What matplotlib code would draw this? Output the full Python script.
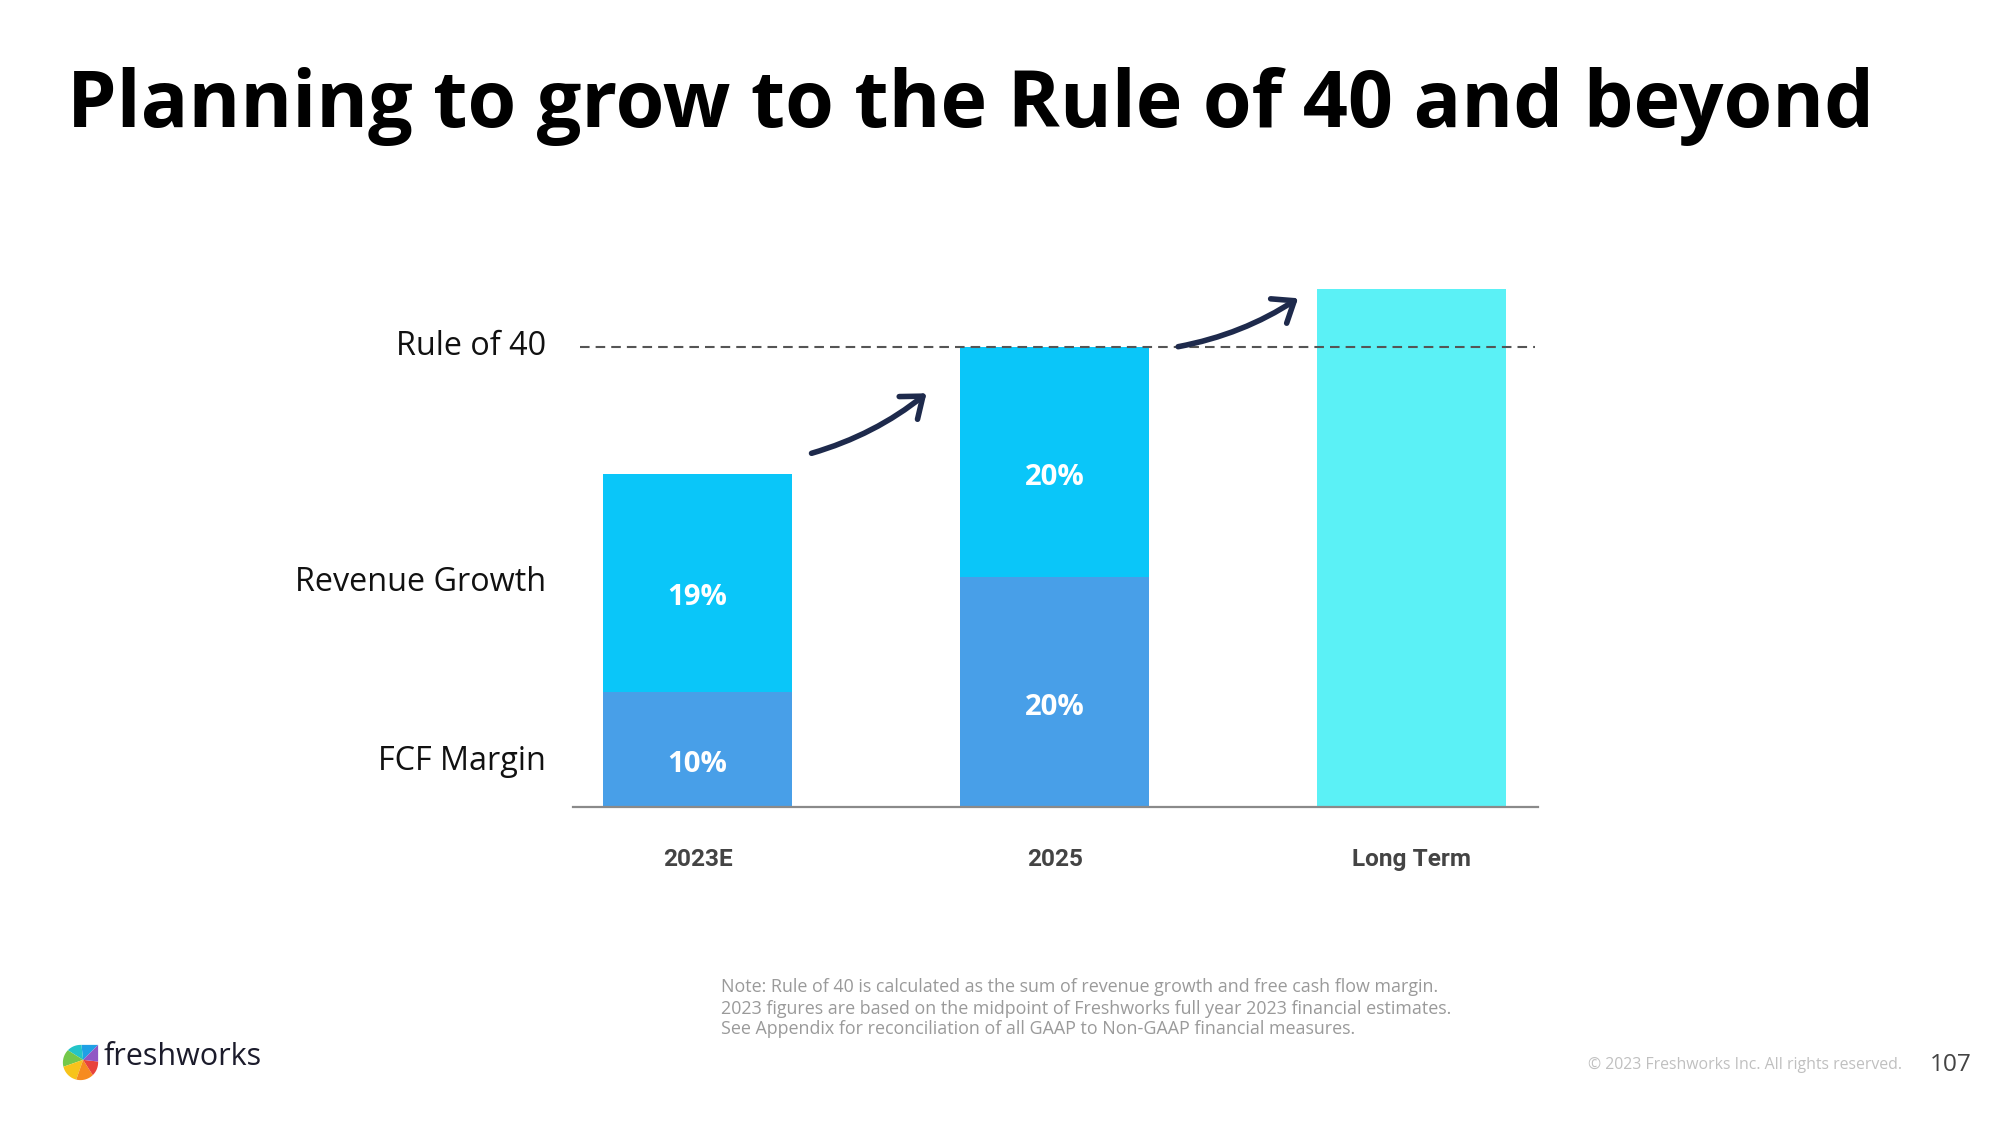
import matplotlib
matplotlib.use("Agg")
import matplotlib.pyplot as plt
import numpy as np
from matplotlib.patches import Wedge, Polygon

# ---------------- data ----------------
categories = ["2023E", "2025", "Long Term"]
fcf_margin = [10, 20, 0]
revenue_growth = [19, 20, 0]
long_term = [0, 0, 45]
rule_of_40 = 40
fcf_labels = ["10%", "20%", ""]
rev_labels = ["19%", "20%", ""]
row_labels = ["Rule of 40", "Revenue Growth", "FCF Margin"]
title = "Planning to grow to the Rule of 40 and beyond"
notes = ["Note: Rule of 40 is calculated as the sum of revenue growth and free cash flow margin.",
         "2023 figures are based on the midpoint of Freshworks full year 2023 financial estimates.",
         "See Appendix for reconciliation of all GAAP to Non-GAAP financial measures."]
copyright_text = "\u00a9 2023 Freshworks Inc. All rights reserved."
page_number = "107"

# ---------------- style ----------------
C_FCF = "#489FE8"
C_REV = "#0AC6F9"
C_LT = "#5BF1F6"
C_ARROW = "#1E2A4C"
MAIN_FONT = ["Open Sans", "DejaVu Sans"]
W, H = 2000, 1125

fig = plt.figure(figsize=(20, 11.25), dpi=100)
fig.patch.set_facecolor("white")

def fx(px):
    return px / W

def fy(py):
    return 1 - py / H

# axes: x from 572.7px to 1538px ; baseline 807.4px ; top 250px
ax = fig.add_axes([fx(572.7), fy(807.4), fx(1538 - 572.7), (807.4 - 250) / H])
x = np.arange(len(categories))
bw = 0.53
ax.bar(x, fcf_margin, width=bw, color=C_FCF, zorder=2)
ax.bar(x, revenue_growth, width=bw, bottom=fcf_margin, color=C_REV, zorder=2)
ax.bar(x, long_term, width=bw, color=C_LT, zorder=2)
ax.set_xlim(-0.350, 2.354)
ax.set_ylim(0, 48.42)

for s in ["top", "right", "left"]:
    ax.spines[s].set_visible(False)
ax.spines["bottom"].set_color("#8a8a8a")
ax.spines["bottom"].set_linewidth(1.6)
ax.spines["bottom"].set_zorder(3)
ax.set_yticks([])
ax.set_xticks(x)
ax.set_xticklabels(categories, fontfamily=["Roboto", "DejaVu Sans"], fontweight="bold",
                   color="#444444", fontsize=17)
ax.tick_params(axis="x", length=0, pad=29)

# rule of 40 line
ax.axhline(rule_of_40, xmin=0.008, xmax=0.997, color="#555555", lw=1.5,
           linestyle=(0, (4.6, 2.9)), zorder=4)

# bar value labels
LABEL_SHIFT = 1.3
label_texts = []
for i in range(len(categories)):
    if fcf_labels[i]:
        t = ax.text(x[i], fcf_margin[i] / 2 - LABEL_SHIFT, fcf_labels[i], ha="center", va="center",
                    color="white", fontweight="bold", fontfamily=MAIN_FONT, fontsize=21, zorder=5)
        label_texts.append(t)
    if rev_labels[i]:
        t = ax.text(x[i], fcf_margin[i] + revenue_growth[i] / 2 - LABEL_SHIFT, rev_labels[i],
                    ha="center", va="center", color="white", fontweight="bold",
                    fontfamily=MAIN_FONT, fontsize=21, zorder=5)
        label_texts.append(t)

# row labels on the left
row_y = [rule_of_40, fcf_margin[0] + revenue_growth[0] / 2, fcf_margin[0] / 2 - 1.0]
row_texts = []
trans = ax.get_yaxis_transform()
for lab, yy in zip(row_labels, row_y):
    t = ax.text(-0.028, yy, lab, transform=trans, ha="right", va="center",
                fontfamily=MAIN_FONT, fontsize=22, color="#111111")
    row_texts.append(t)

# arrows
arrow_kw = dict(arrowstyle="->,head_length=1.35,head_width=1.05", lw=4.0, color=C_ARROW,
                shrinkA=0, shrinkB=0, connectionstyle="arc3,rad=0.1", capstyle="round",
                joinstyle="round")
ax.annotate("", xy=(0.641, 35.97), xytext=(0.319, 30.76), arrowprops=arrow_kw, zorder=6)
ax.annotate("", xy=(1.682, 44.23), xytext=(1.346, 40.02), arrowprops=arrow_kw, zorder=6)

# title
t_title = fig.text(fx(67), fy(127), title, ha="left", va="baseline", fontsize=60,
                   fontweight="bold", fontfamily=MAIN_FONT, color="black")

# footnotes
note_y = [986.5, 1009, 1028.5]
note_texts = []
for line, yy in zip(notes, note_y):
    t = fig.text(fx(721), fy(yy), line, ha="left", va="center", fontsize=12,
                 fontfamily=MAIN_FONT, color="#9a9a9a")
    note_texts.append(t)

t_copy = fig.text(fx(1588), fy(1065), copyright_text, ha="left", va="center", fontsize=12,
                  fontfamily=MAIN_FONT, color="#c0c0c0")
t_page = fig.text(fx(1930), fy(1065), page_number, ha="left", va="center", fontsize=20,
                  fontfamily=MAIN_FONT, color="#444444")
t_logo = fig.text(fx(103), fy(1057), "freshworks", ha="left", va="center", fontsize=24,
                  fontfamily=MAIN_FONT, color="#1b1b2b")

# logo icon
iax = fig.add_axes([fx(62), fy(1081), fx(37), 37 / H])
iax.set_xlim(-1.05, 1.05)
iax.set_ylim(-1.05, 1.05)
iax.axis("off")
ang = np.linspace(np.pi / 2, 2 * np.pi, 60)
pts = np.column_stack([np.cos(ang), np.sin(ang)])
pts = np.vstack([pts, [[1, 1]]])
clip = Polygon(pts, closed=True, transform=iax.transData, facecolor="none", edgecolor="none")
iax.add_patch(clip)
icon_colors = ["#1FA0E5", "#23C4C8", "#74C84A", "#F7C31B", "#F68B1F", "#E8433C", "#9057C4"]
angles = np.linspace(45, 405, len(icon_colors) + 1)
for c, a0, a1 in zip(icon_colors, angles[:-1], angles[1:]):
    w = Wedge((0.15, 0.15), 1.8, a0, a1, facecolor=c, edgecolor="none")
    iax.add_patch(w)
    w.set_clip_path(clip)

# ---------------- fit text widths ----------------
fig.canvas.draw()
r = fig.canvas.get_renderer()

def fit(t, target):
    bb = t.get_window_extent(r)
    t.set_fontsize(t.get_fontsize() * target / bb.width)
    return t.get_fontsize()

fit(t_title, 1810)
s = fit(row_texts[1], 251)
for t in row_texts:
    t.set_fontsize(s)
s = fit(label_texts[0], 60)
for t in label_texts:
    t.set_fontsize(s)
s = fit(note_texts[0], 719)
for t in note_texts:
    t.set_fontsize(s)
fit(t_copy, 314)
fit(t_page, 42)
fit(t_logo, 159)
tl = ax.get_xticklabels()[0]
s = tl.get_fontsize() * 70 / tl.get_window_extent(r).width
ax.tick_params(axis="x", labelsize=s)

fig.savefig("out.png", dpi=100, facecolor="white")
